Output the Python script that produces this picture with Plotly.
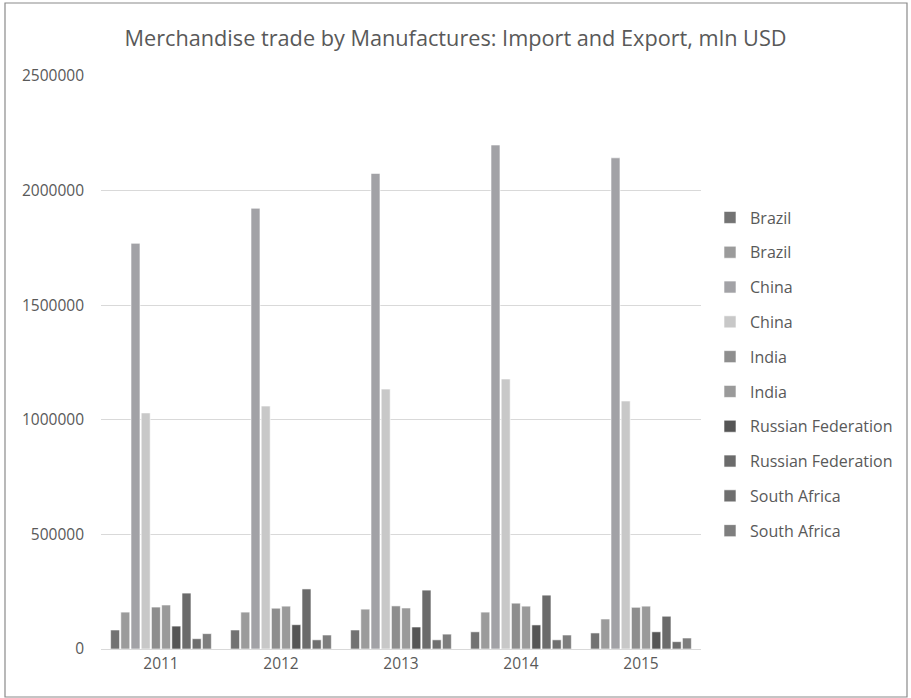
import plotly.graph_objects as go

years = ["2011", "2012", "2013", "2014", "2015"]
series_names = ["Brazil", "Brazil", "China", "China", "India", "India",
                "Russian Federation", "Russian Federation", "South Africa", "South Africa"]

brazil_1 = [83000, 83000, 83000, 75000, 70000]
brazil_2 = [161000, 161000, 174000, 161000, 131000]
china_1 = [1770000, 1923000, 2075000, 2199000, 2143000]
china_2 = [1030000, 1060000, 1134000, 1178000, 1082000]
india_1 = [183000, 178000, 188000, 200000, 182000]
india_2 = [192000, 187000, 179000, 187000, 187000]
russia_1 = [100000, 106000, 96000, 105000, 75000]
russia_2 = [244000, 262000, 257000, 235000, 143000]
safrica_1 = [45000, 40000, 40000, 40000, 32000]
safrica_2 = [67000, 61000, 65000, 61000, 48000]

values = [brazil_1, brazil_2, china_1, china_2, india_1, india_2,
          russia_1, russia_2, safrica_1, safrica_2]
colors = ["#737373", "#9b9b9b", "#a2a2a6", "#c8c8c8", "#8e8e8e",
          "#9a9a9a", "#555555", "#6b6b6b", "#6e6e6e", "#7e7e7e"]

FONT = "Open Sans"
fig = go.Figure()
for i, (name, vals, col) in enumerate(zip(series_names, values, colors)):
    fig.add_trace(go.Bar(
        x=years, y=vals, name=name,
        marker=dict(color=col, line=dict(color="#ffffff", width=0.6)),
        legendgroup=f"g{i}",
    ))

fig.update_layout(
    width=911, height=698,
    margin=dict(l=101, r=210, t=76, b=49),
    paper_bgcolor="white", plot_bgcolor="white",
    barmode="group", bargap=0.15, bargroupgap=0.12,
    font=dict(family=FONT, color="#595959", size=15),
    title=dict(text="Merchandise trade by Manufactures: Import and Export, mln USD",
               x=0.5, xref="container", xanchor="center", y=0.945, yanchor="middle",
               font=dict(size=21.7, color="#595959", family=FONT)),
    legend=dict(x=1.015, xanchor="left", y=0.479, yanchor="middle",
                font=dict(size=16, color="#595959"), tracegroupgap=11,
                itemwidth=30, bgcolor="rgba(0,0,0,0)"),
    showlegend=True,
)
fig.update_xaxes(type="category", showgrid=False, showline=True, linecolor="#d9d9d9",
                 linewidth=1, ticks="", tickfont=dict(size=15.5, color="#595959"))
fig.update_yaxes(range=[0, 2500000], dtick=500000, tickformat="d", showgrid=True,
                 gridcolor="#d9d9d9", gridwidth=1, zeroline=False, showline=False,
                 ticklabelstandoff=16, tickfont=dict(size=15.5, color="#595959"))
fig.add_shape(type="rect", xref="paper", yref="paper",
              x0=-96/600, x1=806/600, y0=-48/573, y1=646/573,
              line=dict(color="#8a8a8a", width=1.2), fillcolor="rgba(0,0,0,0)", layer="below")
fig.write_html("out.html", config={"displayModeBar": False},
               post_script="document.body.style.margin='0';document.body.style.overflow='hidden';")
